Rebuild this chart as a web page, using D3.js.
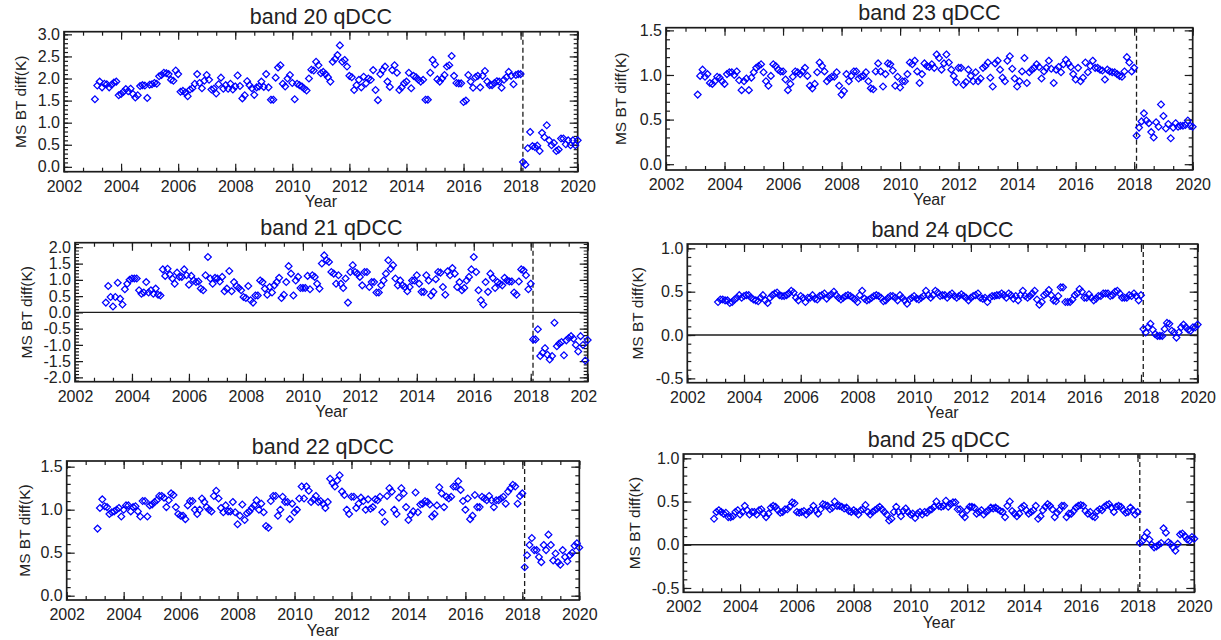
<!DOCTYPE html>
<html>
<head>
<meta charset="utf-8">
<script src="https://cdn.jsdelivr.net/npm/d3@7"></script>
<style>
    body {margin: 0; background: #fff;}
    svg {display: block;}
    text {font-family: "Liberation Sans", Arial, Helvetica, sans-serif; fill: #222;}
</style>
</head>
<body>
<svg id="chart" width="1221" height="640"></svg>
<script>
// monthly samples, first one at 2003 + 1/12, one value per month
const firstSample = 2003 + 1 / 12;
const breakYear = 2018.08;          // dashed vertical line
const yearTicks = [2002, 2004, 2006, 2008, 2010, 2012, 2014, 2016, 2018, 2020];

const band20 = [
    1.53, 1.84, 1.93, 1.80, 1.88, 1.87, 1.80, 1.86, 1.91, 1.93, 1.62, 1.65,
    1.70, 1.76, 1.71, 1.77, 1.65, 1.57, 1.62, 1.83, 1.85, 1.84, 1.56, 1.86,
    1.87, 1.90, 1.88, 2.05, 2.08, 2.13, 2.12, 2.10, 1.97, 1.95, 2.18, 2.10,
    1.70, 1.72, 1.68, 1.60, 1.75, 1.78, 1.88, 2.10, 1.90, 1.78, 1.95, 2.08,
    1.97, 1.75, 1.77, 1.66, 1.87, 2.02, 1.77, 1.85, 1.77, 1.88, 1.75, 1.82,
    2.07, 1.83, 1.55, 1.62, 1.94, 1.85, 1.78, 1.63, 1.80, 1.82, 1.93, 1.81,
    2.10, 1.80, 1.52, 1.52, 2.02, 2.25, 2.30, 1.88, 1.82, 2.00, 2.08, 1.90,
    1.53, 1.88, 1.85, 1.82, 1.77, 1.73, 2.00, 2.20, 2.18, 2.38, 2.30, 2.12,
    2.15, 2.10, 2.03, 1.93, 2.38, 2.44, 2.53, 2.75, 2.38, 2.42, 2.27, 2.06,
    2.03, 1.74, 1.85, 1.97, 1.80, 2.04, 1.89, 2.00, 1.97, 2.19, 1.74, 1.51,
    2.10, 2.19, 2.27, 1.93, 1.81, 2.19, 2.30, 2.13, 1.74, 1.80, 1.89, 1.93,
    2.13, 1.78, 2.06, 2.03, 1.97, 1.93, 1.97, 1.52, 1.52, 2.13, 2.42, 2.32,
    1.98, 1.93, 2.00, 2.08, 2.27, 2.30, 2.51, 2.06, 1.90, 1.89, 1.89, 1.47,
    1.50, 2.08, 1.93, 1.79, 2.03, 2.06, 1.80, 2.06, 2.17, 1.93, 1.85, 1.85,
    1.90, 1.94, 1.93, 1.79, 1.97, 2.03, 2.15, 2.06, 1.87, 2.08, 2.10, 2.10,
    0.11, 0.05, 0.42, 0.79, 0.47, 0.45, 0.48, 0.36, 0.77, 0.67, 0.94, 0.60,
    0.49, 0.54, 0.36, 0.39, 0.64, 0.64, 0.51, 0.60, 0.49, 0.60, 0.49, 0.60
];

const band21 = [
    0.30, 0.81, 0.47, 0.18, 0.47, 0.91, 0.42, 0.24, 0.71, 0.88, 1.00, 1.04,
    1.04, 1.04, 0.68, 0.57, 0.61, 0.93, 0.61, 0.68, 0.57, 0.73, 0.54, 0.52,
    1.32, 1.12, 1.34, 1.16, 1.04, 0.88, 1.22, 1.09, 1.09, 1.32, 1.14, 0.85,
    1.12, 0.98, 0.93, 0.95, 0.73, 0.68, 1.14, 1.70, 1.04, 0.88, 1.06, 1.04,
    0.95, 1.09, 0.65, 0.73, 1.27, 0.65, 0.93, 0.81, 0.75, 0.68, 0.47, 0.44,
    0.81, 0.37, 0.30, 0.52, 0.52, 0.98, 0.93, 0.73, 0.54, 0.78, 0.61, 0.83,
    0.93, 1.06, 0.44, 0.54, 0.93, 1.42, 1.19, 0.52, 0.98, 1.09, 0.75, 0.75,
    0.75, 1.12, 0.71, 1.14, 1.09, 0.88, 0.73, 1.50, 1.75, 1.60, 1.55, 1.24,
    1.19, 0.88, 1.14, 0.88, 0.75, 1.04, 0.30, 1.24, 1.45, 1.24, 1.19, 1.09,
    0.83, 1.24, 1.24, 0.78, 0.93, 0.93, 0.61, 0.61, 0.83, 0.98, 1.19, 1.60,
    1.34, 1.45, 1.04, 0.83, 0.98, 0.83, 0.78, 0.65, 0.78, 0.98, 0.98, 1.14,
    0.88, 0.63, 0.63, 1.14, 0.98, 0.52, 0.63, 1.02, 1.24, 1.22, 0.78, 0.54,
    1.26, 1.14, 1.36, 1.19, 0.78, 0.93, 0.68, 0.75, 0.98, 1.09, 1.32, 1.70,
    1.24, 0.68, 0.37, 0.24, 0.93, 0.63, 1.19, 1.06, 0.75, 0.93, 0.88, 0.83,
    1.06, 0.98, 0.95, 0.95, 0.61, 0.54, 0.95, 1.32, 1.29, 1.14, 0.71, 0.88,
    -0.83, -0.83, -0.52, -1.34, -1.24, -1.10, -1.30, -1.45, -1.34, -0.32, -1.04, -0.96,
    -0.91, -1.32, -0.86, -0.79, -0.73, -0.81, -1.00, -1.20, -0.73, -1.00, -1.48, -0.85
];

const band22 = [
    0.78, 1.02, 1.12, 1.04, 1.03, 0.95, 0.97, 0.98, 1.00, 1.02, 0.92, 1.00,
    1.05, 1.05, 0.98, 1.03, 1.04, 0.98, 0.92, 1.10, 1.10, 0.92, 1.05, 1.06,
    1.09, 1.11, 1.16, 1.16, 1.14, 1.03, 1.11, 1.19, 1.17, 1.03, 0.95, 0.93,
    0.93, 0.89, 1.05, 1.10, 1.10, 1.00, 0.95, 1.00, 1.13, 1.09, 1.03, 1.00,
    0.98, 1.16, 1.22, 1.13, 1.02, 0.97, 1.05, 0.98, 0.98, 1.09, 0.97, 0.83,
    0.93, 1.06, 0.88, 0.96, 0.98, 1.02, 1.05, 1.11, 1.00, 1.07, 0.97, 0.81,
    0.79, 1.10, 1.16, 1.16, 0.93, 1.00, 1.15, 1.09, 1.09, 0.89, 1.07, 0.97,
    1.00, 1.13, 1.27, 1.13, 1.27, 1.22, 1.09, 1.12, 1.16, 1.09, 1.10, 1.07,
    1.02, 1.09, 1.36, 1.31, 1.27, 1.34, 1.40, 1.21, 1.17, 1.00, 0.95, 1.15,
    1.15, 1.02, 1.07, 1.14, 1.10, 1.00, 1.12, 1.01, 1.03, 1.12, 1.11, 1.15,
    0.97, 0.86, 1.16, 1.25, 1.21, 1.00, 0.95, 1.14, 1.25, 1.19, 1.03, 0.88,
    0.94, 0.98, 1.20, 0.97, 1.06, 1.07, 1.10, 1.09, 1.06, 0.92, 0.95, 1.05,
    1.26, 1.19, 1.03, 1.15, 1.13, 1.15, 1.27, 1.27, 1.33, 1.23, 1.10, 1.00,
    1.13, 0.89, 0.93, 1.17, 1.03, 1.03, 1.15, 1.13, 1.11, 1.16, 1.11, 1.03,
    1.11, 1.11, 1.13, 1.15, 1.07, 1.21, 1.25, 1.29, 1.27, 1.07, 1.16, 1.19,
    0.33, 0.47, 0.59, 0.67, 0.53, 0.53, 0.45, 0.39, 0.59, 0.53, 0.71, 0.59,
    0.41, 0.49, 0.39, 0.36, 0.53, 0.45, 0.40, 0.47, 0.50, 0.58, 0.61, 0.56
];

const band23 = [
    0.78, 0.99, 1.06, 0.98, 1.01, 0.91, 0.90, 0.93, 0.98, 0.97, 0.93, 0.90,
    1.01, 1.03, 1.03, 1.00, 1.04, 0.94, 0.83, 0.93, 0.96, 0.83, 0.97, 1.03,
    1.08, 1.10, 1.12, 1.03, 0.93, 0.88, 0.99, 1.12, 1.10, 1.06, 1.04, 1.04,
    0.95, 0.83, 0.90, 0.98, 1.04, 1.03, 1.01, 1.04, 1.08, 0.99, 0.88, 0.85,
    0.90, 1.03, 1.14, 1.10, 1.04, 0.93, 0.96, 0.98, 0.98, 1.03, 0.88, 0.78,
    0.82, 1.01, 0.93, 0.99, 1.04, 1.04, 0.96, 0.98, 0.99, 1.03, 0.93, 0.85,
    0.84, 1.04, 1.13, 1.04, 0.87, 1.01, 1.13, 1.12, 1.05, 0.88, 0.98, 0.86,
    0.93, 0.93, 1.01, 1.14, 1.12, 1.16, 1.04, 0.91, 1.01, 1.13, 1.10, 1.09,
    1.12, 1.08, 1.23, 1.19, 1.06, 1.13, 1.23, 1.14, 1.06, 0.99, 0.92, 1.08,
    1.08, 0.89, 0.92, 1.06, 0.99, 0.93, 1.03, 0.93, 0.96, 1.08, 1.10, 1.14,
    0.97, 0.87, 1.13, 1.16, 1.06, 0.97, 0.93, 1.16, 1.21, 1.07, 0.96, 0.87,
    0.93, 1.04, 1.19, 0.91, 1.03, 1.06, 1.08, 1.12, 1.09, 0.96, 1.04, 1.08,
    1.16, 1.07, 0.91, 1.06, 1.09, 1.03, 1.12, 1.17, 1.13, 1.09, 1.01, 0.95,
    1.08, 0.93, 0.97, 1.14, 1.03, 1.10, 1.16, 1.08, 1.08, 1.06, 1.05, 0.95,
    1.06, 1.04, 1.03, 1.03, 1.01, 0.99, 0.98, 1.04, 1.20, 1.14, 1.04, 1.08,
    0.32, 0.41, 0.48, 0.57, 0.49, 0.46, 0.36, 0.30, 0.47, 0.42, 0.67, 0.54,
    0.40, 0.45, 0.29, 0.41, 0.46, 0.42, 0.43, 0.43, 0.44, 0.49, 0.43, 0.42
];

const band24 = [
    0.38, 0.41, 0.41, 0.40, 0.40, 0.37, 0.38, 0.41, 0.43, 0.46, 0.43, 0.45,
    0.46, 0.46, 0.43, 0.41, 0.40, 0.39, 0.43, 0.46, 0.40, 0.37, 0.43, 0.46,
    0.48, 0.49, 0.46, 0.45, 0.45, 0.46, 0.48, 0.51, 0.49, 0.43, 0.40, 0.45,
    0.43, 0.38, 0.43, 0.43, 0.46, 0.42, 0.41, 0.45, 0.46, 0.48, 0.42, 0.45,
    0.47, 0.50, 0.46, 0.43, 0.41, 0.43, 0.45, 0.46, 0.45, 0.43, 0.41, 0.38,
    0.46, 0.51, 0.42, 0.40, 0.41, 0.43, 0.45, 0.46, 0.45, 0.43, 0.39, 0.40,
    0.43, 0.45, 0.45, 0.43, 0.40, 0.46, 0.43, 0.40, 0.36, 0.41, 0.43, 0.45,
    0.42, 0.41, 0.43, 0.45, 0.51, 0.46, 0.43, 0.46, 0.51, 0.49, 0.45, 0.46,
    0.46, 0.43, 0.46, 0.48, 0.45, 0.43, 0.45, 0.47, 0.45, 0.43, 0.40, 0.43,
    0.45, 0.46, 0.48, 0.43, 0.42, 0.43, 0.38, 0.43, 0.45, 0.45, 0.46, 0.46,
    0.48, 0.46, 0.43, 0.48, 0.46, 0.42, 0.45, 0.40, 0.46, 0.51, 0.45, 0.43,
    0.45, 0.48, 0.51, 0.41, 0.35, 0.38, 0.46, 0.48, 0.52, 0.46, 0.40, 0.39,
    0.45, 0.55, 0.55, 0.38, 0.38, 0.38, 0.41, 0.46, 0.48, 0.53, 0.50, 0.43,
    0.43, 0.47, 0.43, 0.40, 0.42, 0.45, 0.45, 0.48, 0.48, 0.48, 0.45, 0.46,
    0.50, 0.51, 0.48, 0.43, 0.43, 0.43, 0.46, 0.45, 0.48, 0.45, 0.40, 0.46,
    0.07, 0.03, 0.09, 0.13, 0.06, 0.01, -0.01, -0.01, -0.01, 0.07, 0.14, 0.13,
    0.05, 0.03, -0.03, 0.03, 0.09, 0.12, 0.09, 0.06, 0.05, 0.09, 0.09, 0.12
];

const band25 = [
    0.30, 0.38, 0.40, 0.38, 0.36, 0.37, 0.32, 0.32, 0.33, 0.38, 0.40, 0.35,
    0.38, 0.45, 0.40, 0.35, 0.38, 0.38, 0.35, 0.40, 0.41, 0.36, 0.32, 0.36,
    0.43, 0.45, 0.44, 0.40, 0.37, 0.38, 0.41, 0.41, 0.44, 0.49, 0.48, 0.38,
    0.37, 0.38, 0.39, 0.35, 0.38, 0.40, 0.45, 0.40, 0.36, 0.41, 0.47, 0.46,
    0.45, 0.41, 0.43, 0.50, 0.45, 0.45, 0.44, 0.42, 0.43, 0.39, 0.38, 0.40,
    0.38, 0.35, 0.40, 0.41, 0.46, 0.38, 0.35, 0.38, 0.40, 0.42, 0.44, 0.41,
    0.38, 0.35, 0.28, 0.30, 0.38, 0.44, 0.38, 0.33, 0.39, 0.42, 0.38, 0.35,
    0.36, 0.31, 0.36, 0.38, 0.35, 0.38, 0.37, 0.40, 0.41, 0.44, 0.50, 0.45,
    0.44, 0.45, 0.51, 0.44, 0.47, 0.49, 0.49, 0.41, 0.41, 0.35, 0.32, 0.40,
    0.44, 0.44, 0.43, 0.36, 0.38, 0.40, 0.35, 0.38, 0.40, 0.43, 0.42, 0.43,
    0.41, 0.39, 0.38, 0.32, 0.45, 0.50, 0.39, 0.36, 0.33, 0.36, 0.43, 0.45,
    0.40, 0.36, 0.38, 0.40, 0.45, 0.30, 0.33, 0.40, 0.44, 0.47, 0.45, 0.41,
    0.32, 0.37, 0.40, 0.45, 0.45, 0.32, 0.36, 0.36, 0.39, 0.43, 0.45, 0.46,
    0.45, 0.39, 0.36, 0.38, 0.33, 0.32, 0.39, 0.41, 0.40, 0.44, 0.46, 0.47,
    0.43, 0.38, 0.44, 0.45, 0.44, 0.40, 0.37, 0.38, 0.43, 0.40, 0.35, 0.38,
    0.02, 0.04, 0.09, 0.14, 0.06, 0.00, -0.03, -0.02, 0.00, 0.02, 0.19, 0.14,
    0.03, 0.01, -0.03, -0.07, 0.01, 0.12, 0.13, 0.10, 0.06, 0.05, 0.09, 0.07
];

// panel layout: frame box [left, top, right, bottom], y range, y tick values
const panels = [
    {title: "band 20 qDCC", values: band20, box: [64, 31.7, 577.7, 171.7], yDomain: [-0.11, 3.06],
        yTicks: [0, 0.5, 1, 1.5, 2, 2.5, 3], zero: false, yTitleOff: 44},
    {title: "band 23 qDCC", values: band23, box: [666, 27.7, 1192.7, 170], yDomain: [-0.065, 1.53],
        yTicks: [0, 0.5, 1, 1.5], zero: false, yTitleOff: 46},
    {title: "band 21 qDCC", values: band21, box: [75, 242.7, 587.7, 381.7], yDomain: [-2.13, 2.14],
        yTicks: [-2, -1.5, -1, -0.5, 0, 0.5, 1, 1.5, 2], zero: true, yTitleOff: 49, clip: 597},
    {title: "band 24 qDCC", values: band24, box: [687.3, 244, 1197.7, 382.7], yDomain: [-0.55, 1.05],
        yTicks: [-0.5, 0, 0.5, 1], zero: true, yTitleOff: 50},
    {title: "band 22 qDCC", values: band22, box: [66.7, 461, 579.3, 600], yDomain: [-0.05, 1.566],
        yTicks: [0, 0.5, 1, 1.5], zero: false, yTitleOff: 42},
    {title: "band 25 qDCC", values: band25, box: [683.3, 454, 1194.3, 592.3], yDomain: [-0.55, 1.05],
        yTicks: [-0.5, 0, 0.5, 1], zero: true, yTitleOff: 49}
];

const svg = d3.select("#chart");
const ink = "#1c1c1c";
const blue = "#0000ff";
const fmt = d => d.toFixed(1);

panels.forEach((p, k) => {
    const [x0, y0, x1, y1] = p.box;
    const w = x1 - x0, h = y1 - y0;

    let g = svg.append("g");
    if (p.clip) {
        svg.append("clipPath").attr("id", "clip" + k)
            .append("rect").attr("x", 0).attr("y", y0 - 40).attr("width", p.clip).attr("height", h + 90);
        g.attr("clip-path", `url(#clip${k})`);
    }
    g = g.append("g").attr("transform", `translate(${x0},${y0})`);

    const x = d3.scaleLinear().domain([2002, 2020]).range([0, w]);
    const y = d3.scaleLinear().domain(p.yDomain).range([h, 0]);

    const xMinor = d3.range(2002, 2020.01, 2 / 3);
    const yMinor = d3.range(Math.ceil(p.yDomain[0] * 10), Math.floor(p.yDomain[1] * 10) + 1).map(v => v / 10);

    // bottom axis with labels, ticks pointing into the frame
    g.append("g").attr("transform", `translate(0,${h})`)
        .call(d3.axisBottom(x).tickValues(yearTicks).tickSize(-8).tickPadding(8.5).tickFormat(d3.format("d")));
    g.append("g").attr("transform", `translate(0,${h})`)
        .call(d3.axisBottom(x).tickValues(xMinor).tickSize(-4).tickFormat(""));
    g.append("g").call(d3.axisTop(x).tickValues(yearTicks).tickSize(-8).tickFormat(""));
    g.append("g").call(d3.axisTop(x).tickValues(xMinor).tickSize(-4).tickFormat(""));

    g.append("g").call(d3.axisLeft(y).tickValues(p.yTicks).tickSize(-8).tickPadding(4).tickFormat(fmt));
    g.append("g").call(d3.axisLeft(y).tickValues(yMinor).tickSize(-4).tickFormat(""));
    g.append("g").attr("transform", `translate(${w},0)`)
        .call(d3.axisRight(y).tickValues(p.yTicks).tickSize(-8).tickFormat(""));
    g.append("g").attr("transform", `translate(${w},0)`)
        .call(d3.axisRight(y).tickValues(yMinor).tickSize(-4).tickFormat(""));

    g.selectAll(".domain").remove();
    g.selectAll(".tick line").attr("stroke", ink).attr("stroke-width", 1.2);
    g.selectAll(".tick text").attr("font-size", 16).attr("fill", "#222")
        .attr("font-family", "'Liberation Sans', Arial, sans-serif");

    // frame
    g.append("rect").attr("width", w).attr("height", h)
        .attr("fill", "none").attr("stroke", ink).attr("stroke-width", 1.7);

    if (p.zero) {
        g.append("line").attr("x1", 0).attr("x2", w).attr("y1", y(0)).attr("y2", y(0))
            .attr("stroke", ink).attr("stroke-width", 1.4);
    }

    g.append("line").attr("x1", x(breakYear)).attr("x2", x(breakYear)).attr("y1", 0).attr("y2", h)
        .attr("stroke", ink).attr("stroke-width", 1.3).attr("stroke-dasharray", "5,3");

    // diamonds
    const r = 3.4;
    g.append("g").selectAll("path").data(p.values).join("path")
        .attr("d", (v, i) => {
            const cx = x(firstSample + i / 12), cy = y(v);
            return `M${cx},${cy - r}L${cx + r},${cy}L${cx},${cy + r}L${cx - r},${cy}Z`;
        })
        .attr("fill", "none").attr("stroke", blue).attr("stroke-width", 1.25);

    // titles
    g.append("text").attr("x", w / 2).attr("y", -7.5).attr("text-anchor", "middle")
        .attr("font-size", 21.5).text(p.title);
    g.append("text").attr("x", w / 2).attr("y", h + 35.5).attr("text-anchor", "middle")
        .attr("font-size", 16).text("Year");
    g.append("text").attr("transform", `translate(${-p.yTitleOff + 5.5},${h / 2}) rotate(-90)`)
        .attr("text-anchor", "middle").attr("font-size", 15.5).text("MS BT diff(K)");
});
</script>
</body>
</html>
